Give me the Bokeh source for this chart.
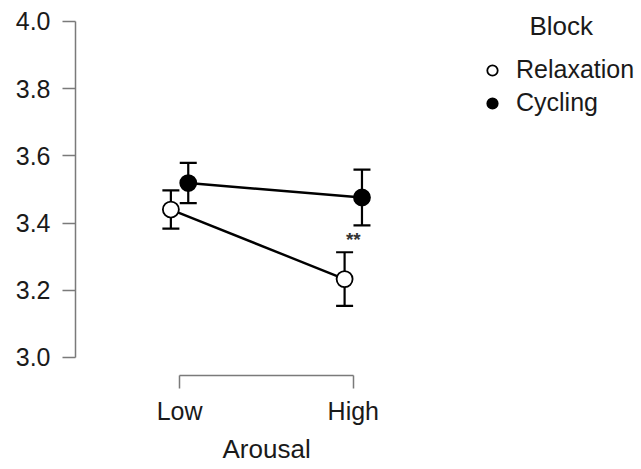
from bokeh.plotting import figure
from bokeh.models import (ColumnDataSource, Whisker, TeeHead, Legend, LegendItem,
                          Label, FixedTicker, Range1d, Title)
from bokeh.transform import dodge
from bokeh.embed import file_html
from bokeh.resources import INLINE

# ---- data ----
arousal_levels = ["Low", "High"]
relax_mean = [3.440, 3.233]
relax_err = [0.057, 0.080]
cyc_mean = [3.519, 3.476]
cyc_err = [0.060, 0.083]
y_ticks = [3.0, 3.2, 3.4, 3.6, 3.8, 4.0]
signif_label = "**"
signif_level = "High"
signif_y = 3.351

FONT = "Liberation Sans"
AXIS_GRAY = "#7a7a7a"
TXT = "#1a1a1a"

xs = list(range(len(arousal_levels)))

def make_src(mean, err):
    return ColumnDataSource(dict(
        x=xs, y=mean,
        upper=[m + e for m, e in zip(mean, err)],
        lower=[m - e for m, e in zip(mean, err)],
    ))

src_r = make_src(relax_mean, relax_err)
src_c = make_src(cyc_mean, cyc_err)

W, H = 641, 469
p = figure(width=W, height=H, output_backend="svg", toolbar_location=None,
           x_range=Range1d(-0.599, 2.659), y_range=Range1d(2.946, 4.0625),
           min_border_left=75, min_border_top=0, min_border_bottom=94,
           min_border_right=0)
p.outline_line_color = None
p.xgrid.grid_line_color = None
p.ygrid.grid_line_color = None
p.background_fill_color = "white"
p.border_fill_color = "white"

# axes
ya = p.yaxis[0]
ya.ticker = FixedTicker(ticks=y_ticks)
ya.bounds = (min(y_ticks), max(y_ticks))
ya.major_label_overrides = {t: f"{t:.1f}" for t in y_ticks}
ya.minor_tick_line_color = None
ya.major_tick_in = 0
ya.major_tick_out = 13
ya.major_label_standoff = 12
ya.axis_line_color = AXIS_GRAY
ya.major_tick_line_color = AXIS_GRAY
ya.axis_line_width = 1.5
ya.major_tick_line_width = 1.5
ya.major_label_text_font = FONT
ya.major_label_text_font_size = "25px"
ya.major_label_text_color = TXT

xa = p.xaxis[0]
xa.ticker = FixedTicker(ticks=xs)
xa.bounds = (min(xs), max(xs))
xa.major_label_overrides = {i: lab for i, lab in zip(xs, arousal_levels)}
xa.minor_tick_line_color = None
xa.major_tick_in = 0
xa.major_tick_out = 13
xa.major_label_standoff = 8
xa.axis_line_color = AXIS_GRAY
xa.major_tick_line_color = AXIS_GRAY
xa.axis_line_width = 1.5
xa.major_tick_line_width = 1.5
xa.major_label_text_font = FONT
xa.major_label_text_font_size = "25px"
xa.major_label_text_color = TXT

# x axis title as a title panel below the axis
p.add_layout(Title(text="Arousal", align="left", offset=147, standoff=8,
                   text_font=FONT, text_font_size="26px", text_font_style="normal",
                   text_color=TXT), "below")

OFF = 0.05
# connecting lines
p.line(dodge("x", -OFF), "y", source=src_r, line_color="black", line_width=2.4)
p.line(dodge("x", OFF), "y", source=src_c, line_color="black", line_width=2.4)

# error bars
for src, off in ((src_r, -OFF), (src_c, OFF)):
    w = Whisker(source=src, base=dodge("x", off), upper="upper", lower="lower",
                dimension="height", line_color="black", line_width=2.2,
                upper_head=TeeHead(size=17, line_width=2.2, line_color="black"),
                lower_head=TeeHead(size=17, line_width=2.2, line_color="black"))
    p.add_layout(w)

# markers
r_relax = p.scatter(dodge("x", -OFF), "y", source=src_r, size=16, marker="circle",
                    fill_color="white", line_color="black", line_width=1.8)
r_cyc = p.scatter(dodge("x", OFF), "y", source=src_c, size=16, marker="circle",
                  fill_color="black", line_color="black", line_width=1.8)

# significance mark
p.add_layout(Label(x=arousal_levels.index(signif_level), y=signif_y, text=signif_label,
                   text_font=FONT, text_font_size="19px", text_font_style="bold",
                   text_color="#333333", text_align="center", text_baseline="middle"))

# legend
legend = Legend(items=[LegendItem(label="Relaxation", renderers=[r_relax]),
                       LegendItem(label="Cycling", renderers=[r_cyc])],
                location=(404, 258), orientation="vertical",
                border_line_color=None, background_fill_alpha=0,
                padding=0, margin=0, spacing=4,
                glyph_width=26, glyph_height=26, label_height=26,
                label_standoff=11,
                label_text_font=FONT, label_text_font_size="25px",
                label_text_color=TXT)
p.add_layout(legend, "center")

p.add_layout(Label(x=454, y=350, x_units="screen", y_units="screen", text="Block",
                   text_font=FONT, text_font_size="26px", text_color=TXT,
                   text_baseline="middle", text_align="left"))

open("out.html", "w").write(file_html(p, INLINE))
